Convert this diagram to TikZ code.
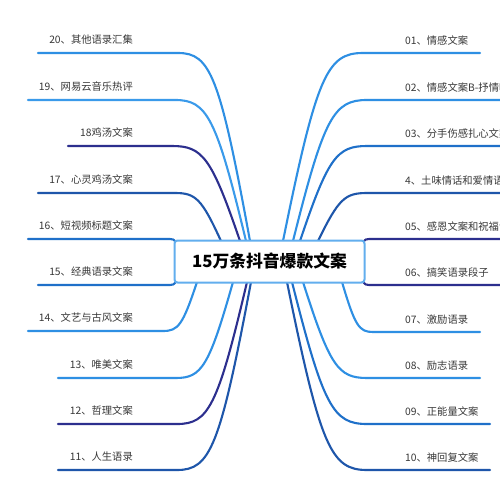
\documentclass[tikz,border=0pt]{standalone}
\usepackage{fontspec}
\setmainfont{Noto Sans CJK SC}
\usetikzlibrary{calc}
\definecolor{lb}{HTML}{2E8FE3}
\definecolor{lb2}{HTML}{3A9AEA}
\definecolor{mb}{HTML}{1F70C9}
\definecolor{db}{HTML}{1E56AA}
\definecolor{nv}{HTML}{2C2F8E}
\definecolor{txt}{HTML}{383838}
\definecolor{boxc}{HTML}{62AEEE}
\newcommand\leftbr[8]{%
  \coordinate (s#1) at (#3,#5);
  \coordinate (e#1) at (#4,#5);
  \coordinate (t#1) at (#6,#7);
  \coordinate (c#1) at ({#4+0.45*(#6-#4)},#5);
  \coordinate (d#1) at ({#4+0.58*(#6-#4)},{#5+0.12*(#7-#5)});
  \node[lbl, anchor=east] (n#1) at (133,#5-13) {#8};
  \draw[conn,#2] (s#1) -- (e#1) .. controls (c#1) and (d#1) .. (t#1);
}
\newcommand\rightbr[8]{%
  \coordinate (s#1) at (#3,#5);
  \coordinate (e#1) at (#4,#5);
  \coordinate (t#1) at (#6,#7);
  \coordinate (c#1) at ({#3+0.45*(#6-#3)},#5);
  \coordinate (d#1) at ({#3+0.58*(#6-#3)},{#5+0.12*(#7-#5)});
  \node[lbl, anchor=west] (n#1) at (405,#5-12) {#8};
  \draw[conn,#2] (t#1) .. controls (d#1) and (c#1) .. (s#1) -- (e#1);
}
\begin{document}
\begin{tikzpicture}[x=1pt,y=-1pt,
  conn/.style={line width=2.1pt, line cap=round},
  lbl/.style={font=\fontsize{10.3}{12}\selectfont, text=txt, inner sep=0pt},
  rootbox/.style={draw=boxc, line width=2pt, fill=white, rounded corners=3pt,
    minimum width=190pt, minimum height=42pt, inner sep=0pt,
    font=\fontsize{16.8}{20}\selectfont\bfseries, text=black}]
\useasboundingbox (0,0) rectangle (500,500);
\clip (0,0) rectangle (500,500);
\fill[white] (0,0) rectangle (500,500);
% left side
\leftbr{20}{lb}{38}{178}{53}{250}{241}{20、其他语录汇集}
\leftbr{19}{lb2}{28}{175}{100}{246}{241}{19、网易云音乐热评}
\leftbr{18}{nv}{68}{172}{146}{240}{241}{18鸡汤文案}
\leftbr{17}{db}{38}{175}{193}{221}{241}{17、心灵鸡汤文案}
\leftbr{16}{mb}{28}{170}{239}{176}{242}{16、短视频标题文案}
\leftbr{15}{mb}{38}{170}{285}{176}{282}{15、经典语录文案}
\leftbr{14}{lb}{28}{163}{331}{197}{282}{14、文艺与古风文案}
\leftbr{13}{lb}{58}{176}{378}{233}{282}{13、唯美文案}
\leftbr{12}{nv}{58}{177}{424}{247}{282}{12、哲理文案}
\leftbr{11}{db}{58}{177}{470}{251}{282}{11、人生语录}
% right side
\rightbr{01}{lb}{363}{480}{53}{283}{241}{01、情感文案}
\rightbr{02}{lb}{367}{510}{100}{293}{241}{02、情感文案B-抒情唯}
\rightbr{03}{mb}{367}{510}{146}{300}{241}{03、分手伤感扎心文案}
\rightbr{04}{db}{367}{510}{193}{318}{241}{4、土味情话和爱情语录}
\rightbr{05}{nv}{369}{510}{239}{363}{242}{05、感恩文案和祝福语录}
\rightbr{06}{nv}{369}{510}{285}{363}{282}{06、搞笑语录段子}
\rightbr{07}{lb}{373}{480}{332}{342}{282}{07、激励语录}
\rightbr{08}{lb}{367}{480}{378}{303}{282}{08、励志语录}
\rightbr{09}{mb}{367}{490}{424}{292}{282}{09、正能量文案}
\rightbr{10}{db}{367}{490}{470}{287}{282}{10、神回复文案}
% root
\node[rootbox] (root) at (269.5,261.5) {15万条抖音爆款文案};
\end{tikzpicture}
\end{document}
